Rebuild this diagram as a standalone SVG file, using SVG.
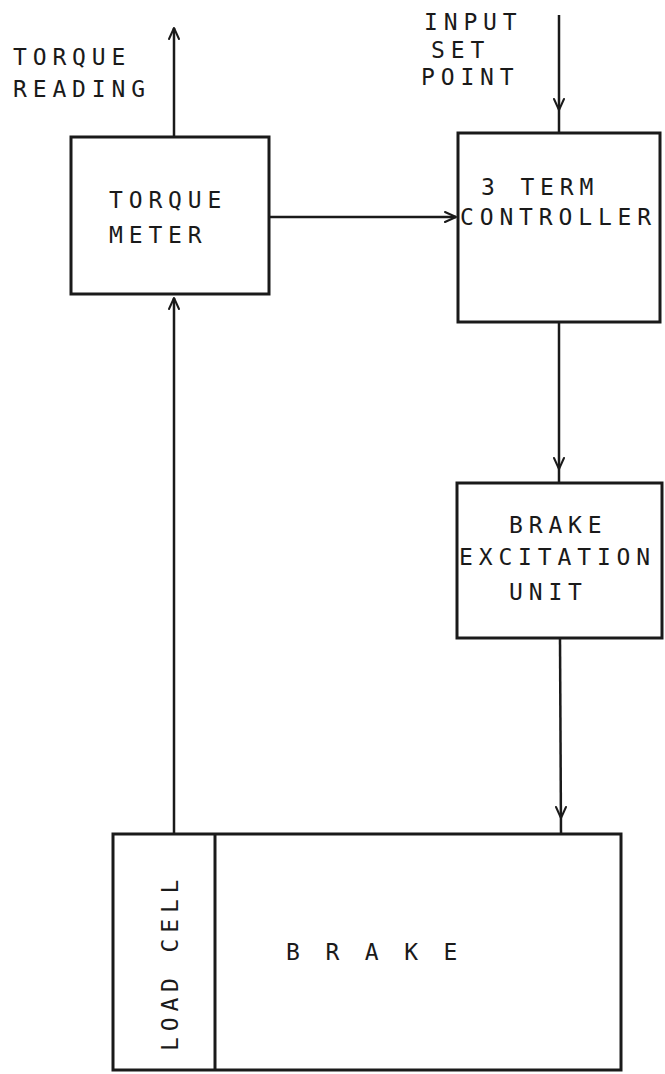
<svg xmlns="http://www.w3.org/2000/svg" width="665" height="1074" viewBox="0 0 665 1074">
  <style>
    .box { fill: none; stroke: #1a1a1a; stroke-width: 3; }
    .wire { fill: none; stroke: #1a1a1a; stroke-width: 2.5; }
    .ah { fill: none; stroke: #1a1a1a; stroke-width: 2; stroke-linecap: round; stroke-linejoin: round; }
    .lbl { font-family: "DejaVu Sans Mono", "Liberation Mono", monospace; font-size: 23px; letter-spacing: 5.85px; fill: #1a1a1a; }
  </style>
  <defs>
    <path id="ah" class="ah" d="M-5,-11 L0,0 L5,-11"/>
  </defs>
  <rect width="665" height="1074" fill="#ffffff"/>

  <g id="connectors">
    <!-- torque reading output -->
    <line class="wire" x1="174" y1="137" x2="174" y2="28"/>
    <use href="#ah" transform="translate(174,28) rotate(180)"/>
    <!-- load cell to torque meter -->
    <line class="wire" x1="174" y1="834" x2="174" y2="298"/>
    <use href="#ah" transform="translate(174,298) rotate(180)"/>
    <!-- torque meter to controller -->
    <line class="wire" x1="269" y1="217" x2="456" y2="217"/>
    <use href="#ah" transform="translate(456,217) rotate(-90)"/>
    <!-- input set point -->
    <line class="wire" x1="559" y1="15" x2="559" y2="133"/>
    <use href="#ah" transform="translate(559,110)"/>
    <!-- controller to excitation unit -->
    <line class="wire" x1="559" y1="322" x2="559" y2="483"/>
    <use href="#ah" transform="translate(559,469)"/>
    <!-- excitation unit to brake -->
    <line class="wire" x1="560" y1="638" x2="561" y2="834"/>
    <use href="#ah" transform="translate(561,818)"/>
  </g>

  <g id="torque-reading-label">
    <text class="lbl" x="13" y="65">TORQUE</text>
    <text class="lbl" x="13" y="97">READING</text>
  </g>

  <g id="input-set-point-label">
    <text class="lbl" x="424" y="30">INPUT</text>
    <text class="lbl" x="431" y="58">SET</text>
    <text class="lbl" x="421" y="85">POINT</text>
  </g>

  <g id="torque-meter">
    <rect class="box" x="71" y="137" width="198" height="157"/>
    <text class="lbl" x="109" y="208">TORQUE</text>
    <text class="lbl" x="109" y="243">METER</text>
  </g>

  <g id="controller">
    <rect class="box" x="458" y="133" width="202" height="189"/>
    <text class="lbl" x="481" y="195">3 TERM</text>
    <text class="lbl" x="460" y="225">CONTROLLER</text>
  </g>

  <g id="excitation-unit">
    <rect class="box" x="457" y="483" width="205" height="155"/>
    <text class="lbl" x="509" y="533">BRAKE</text>
    <text class="lbl" x="459" y="565">EXCITATION</text>
    <text class="lbl" x="509" y="600">UNIT</text>
  </g>

  <g id="brake">
    <rect class="box" x="113" y="834" width="508" height="236"/>
    <line class="box" x1="215" y1="834" x2="215" y2="1070"/>
    <text class="lbl" x="286" y="960">B R A K E</text>
  </g>

  <g id="load-cell">
    <text class="lbl" transform="translate(178,1051) rotate(-90)" x="0" y="0">LOAD CELL</text>
  </g>
</svg>
